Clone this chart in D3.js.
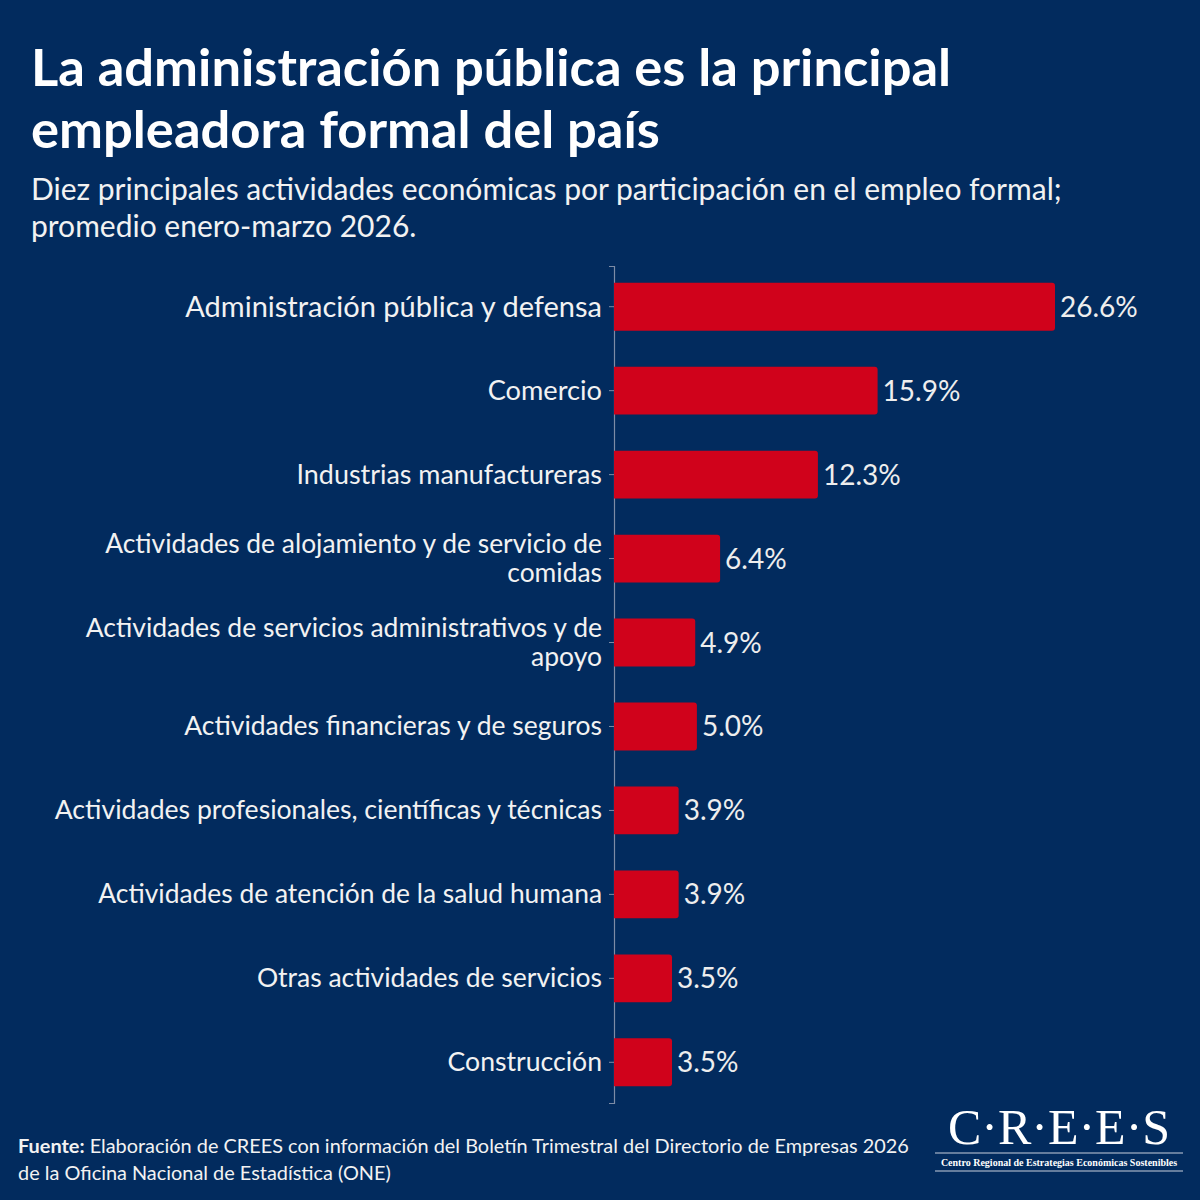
<!DOCTYPE html>
<html><head><meta charset="utf-8">
<script src="https://cdn.jsdelivr.net/npm/d3@7"></script>
<style>
html,body{margin:0;padding:0;background:#022b5e;}
svg{display:block;}
</style></head>
<body>
<script>
const categories = [
  "Administración pública y defensa",
  "Comercio",
  "Industrias manufactureras",
  "Actividades de alojamiento y de servicio de|comidas",
  "Actividades de servicios administrativos y de|apoyo",
  "Actividades financieras y de seguros",
  "Actividades profesionales, científicas y técnicas",
  "Actividades de atención de la salud humana",
  "Otras actividades de servicios",
  "Construcción"
];
const values = [26.6, 15.9, 12.3, 6.4, 4.9, 5.0, 3.9, 3.9, 3.5, 3.5];
const titleLines = ["La administración pública es la principal", "empleadora formal del país"];
const subtitleLines = ["Diez principales actividades económicas por participación en el empleo formal;", "promedio enero-marzo 2026."];
const sourceBold = "Fuente:";
const sourceLines = [" Elaboración de CREES con información del Boletín Trimestral del Directorio de Empresas 2026", "de la Oficina Nacional de Estadística (ONE)"];

const W = 1200, H = 1200;
const svg = d3.select("body").append("svg").attr("width", W).attr("height", H);
svg.append("rect").attr("width", W).attr("height", H).attr("fill", "#022b5e");

const font = "Lato, 'Noto Sans', sans-serif";

// title
svg.append("g").selectAll("text").data(titleLines).join("text")
  .attr("x", 31).attr("y", (d, i) => 86 + i * 62)
  .attr("fill", "#ffffff").attr("font-family", font).attr("font-weight", 700)
  .attr("font-size", 52.5).text(d => d);

svg.append("g").selectAll("text").data(subtitleLines).join("text")
  .attr("x", 31).attr("y", (d, i) => 200 + i * 37)
  .attr("fill", "#f2f2f2").attr("font-family", font).attr("font-weight", 400)
  .attr("font-size", 30).text(d => d);

// scales
const x0 = 614;
const x = d3.scaleLinear().domain([0, 26.6]).range([x0, 1055]);
const y = d3.scaleBand().domain(categories).range([266, 1103]).paddingInner(0.43).paddingOuter(0.2);

// axis
const axis = d3.axisLeft(y).tickSize(5).tickFormat("");
const ag = svg.append("g").attr("transform", `translate(${x0},0)`).call(axis);
ag.select(".domain").attr("stroke", "#7d8ca6").attr("stroke-width", 1.2);
ag.selectAll(".tick line").attr("stroke", "#7d8ca6");

// bars with rounded right corners
const r = 3;
function barPath(d, i) {
  const x1 = x0, x2 = x(values[i]);
  const y1 = y(d), h = y.bandwidth();
  return `M${x1},${y1} H${x2 - r} Q${x2},${y1} ${x2},${y1 + r} V${y1 + h - r} Q${x2},${y1 + h} ${x2 - r},${y1 + h} H${x1} Z`;
}
svg.append("g").selectAll("path").data(categories).join("path")
  .attr("d", barPath).attr("fill", "#d0021b");

// category labels
const labelSizes = [29, 27.2, 26.9, 26.4, 26.5, 26.5, 26.6, 26.4, 26.5, 26.6];
const lg = svg.append("g");
categories.forEach((c, i) => {
  const lines = c.split("|");
  const cy = y(c) + y.bandwidth() / 2;
  const lh = 28.5;
  const fs = labelSizes[i];
  const t = lg.append("text").attr("text-anchor", "end")
    .attr("font-family", font).attr("font-size", fs).attr("fill", "#f2f2f2");
  lines.forEach((l, j) => {
    t.append("tspan").attr("x", 602)
      .attr("y", cy + fs * 0.34 + (j - (lines.length - 1) / 2) * lh).text(l);
  });
});

// value labels
svg.append("g").selectAll("text").data(values).join("text")
  .attr("x", d => x(d) + 5)
  .attr("y", (d, i) => y(categories[i]) + y.bandwidth() / 2 + 10)
  .attr("font-family", font).attr("font-size", 28).attr("fill", "#eeeeee")
  .text(d => d.toFixed(1) + "%");

// source
const st = svg.append("text").attr("x", 18).attr("y", 1153)
  .attr("font-family", font).attr("font-size", 19.9).attr("fill", "#f2f2f2");
st.append("tspan").attr("font-weight", 700).text(sourceBold);
st.append("tspan").text(sourceLines[0]);
svg.append("text").attr("x", 18).attr("y", 1180)
  .attr("font-family", font).attr("font-size", 19.9).attr("fill", "#f2f2f2").text(sourceLines[1]);

// logo
const logo = svg.append("g");
logo.append("text").attr("x", 1059).attr("y", 1144).attr("text-anchor", "middle")
  .attr("font-family", "'Liberation Serif', 'DejaVu Serif', serif").attr("font-size", 50)
  .attr("fill", "#ffffff").text("C·R·E·E·S");
logo.append("line").attr("x1", 935).attr("x2", 1183).attr("y1", 1153).attr("y2", 1153)
  .attr("stroke", "#c8d0dc").attr("stroke-width", 1);
logo.append("line").attr("x1", 935).attr("x2", 1183).attr("y1", 1171).attr("y2", 1171)
  .attr("stroke", "#c8d0dc").attr("stroke-width", 1);
logo.append("text").attr("x", 1059).attr("y", 1165.5).attr("text-anchor", "middle")
  .attr("font-family", "'Liberation Serif', 'DejaVu Serif', serif").attr("font-size", 10)
  .attr("font-weight", 700).attr("fill", "#ffffff")
  .text("Centro Regional de Estrategias Económicas Sostenibles");
</script>
</body></html>
